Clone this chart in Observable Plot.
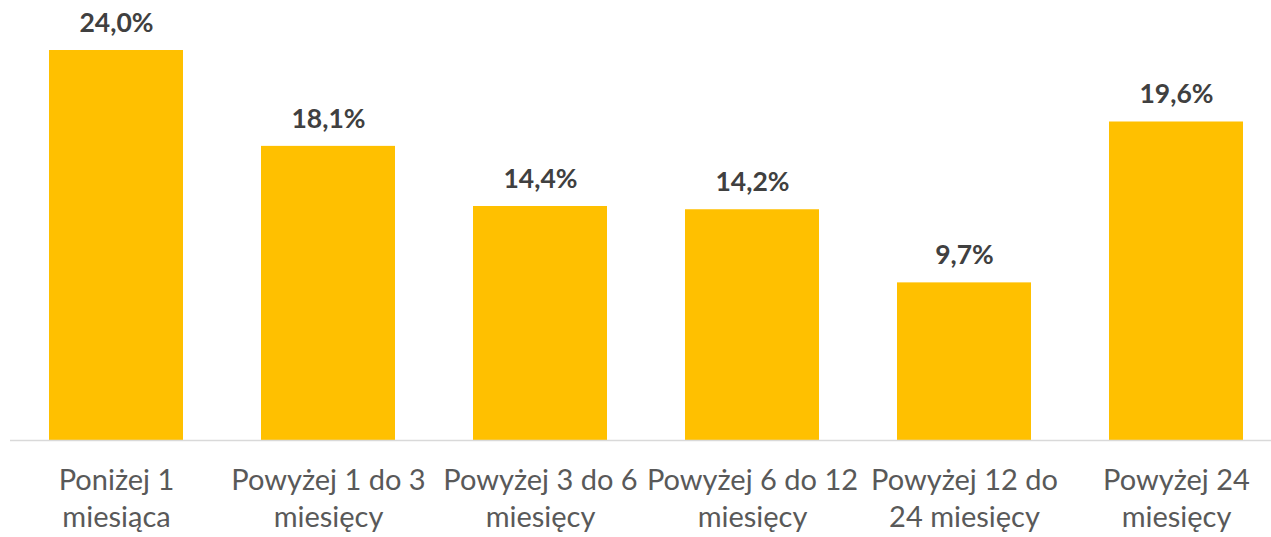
<!DOCTYPE html>
<html>
<head>
<meta charset="utf-8">
<script src="https://cdn.jsdelivr.net/npm/d3@7"></script>
<script src="https://cdn.jsdelivr.net/npm/@observablehq/plot@0.6"></script>
<style>
  html, body { margin: 0; padding: 0; background: #fff; }
  #chart svg { display: block; }
</style>
</head>
<body>
<div id="chart"></div>
<script>
const categories = ["c1", "c2", "c3", "c4", "c5", "c6"];
const tickLabels = [
  "Poniżej 1\nmiesiąca",
  "Powyżej 1 do 3\nmiesięcy",
  "Powyżej 3 do 6\nmiesięcy",
  "Powyżej 6 do 12\nmiesięcy",
  "Powyżej 12 do\n24 miesięcy",
  "Powyżej 24\nmiesięcy"
];
const values = [24.0, 18.1, 14.4, 14.2, 9.7, 19.6];

const data = categories.map((c, i) => ({cat: c, label: tickLabels[i], value: values[i]}));
const fmt = v => v.toFixed(1).replace(".", ",") + "%";

const chart = Plot.plot({
  width: 1271,
  height: 537,
  marginTop: 50,
  marginBottom: 97,
  marginLeft: 10,
  marginRight: 0,
  style: {fontFamily: "Lato, 'Open Sans', sans-serif", background: "#fff"},
  x: {domain: categories, range: [10, 1282], paddingInner: 0.37, paddingOuter: 0.185, axis: null},
  y: {domain: [0, 24], axis: null},
  marks: [
    Plot.barY(data, {x: "cat", y: "value", fill: "#FFC000"}),
    Plot.ruleY([0], {stroke: "#D9D9D9", strokeWidth: 1.5}),
    Plot.text(data, {x: "cat", y: "value", text: d => fmt(d.value), lineAnchor: "middle", dy: -27,
      fontSize: 26.5, fontWeight: "bold", fill: "#404040"}),
    Plot.text(data, {x: "cat", y: () => 0, text: "label", lineAnchor: "top", dy: 23,
      fontSize: 29, lineHeight: 1.28, fill: "#595959"})
  ]
});
document.getElementById("chart").appendChild(chart);
</script>
</body>
</html>
